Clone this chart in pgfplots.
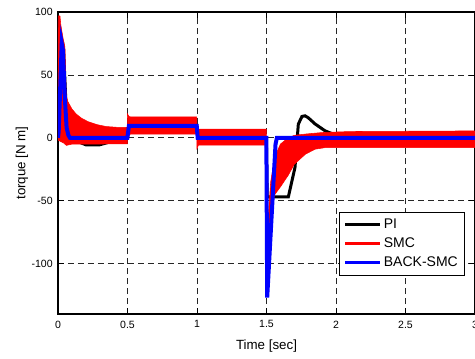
\documentclass[border=0pt]{standalone}
\usepackage{pgfplots}
\pgfplotsset{compat=1.18}
\usepackage{fontspec}
\setmainfont{Liberation Sans}
\begin{document}
\begin{tikzpicture}
\begin{axis}[
  name=ax,
  at={(0pt,0pt)}, anchor=south west,
  scale only axis,
  width=312.75pt, height=226.5pt,
  xmin=0, xmax=3, ymin=-140, ymax=100,
  xtick={0,0.5,1,1.5,2,2.5,3},
  xticklabels={0,0.5,1,1.5,2,2.5,3},
  ytick={-100,-50,0,50,100},
  yticklabels={-100,-50,0,50,100},
  tick label style={font=\fontsize{7.9}{9}\selectfont},
  xticklabel style={yshift=-1.5pt},
  yticklabel style={xshift=-0.5pt},
  tick align=inside,
  major tick length=4.5pt,
  every tick/.style={black, line width=0.6pt},
  axis line style={black, line width=0.9pt},
  grid=major,
  major grid style={black!85, line width=0.55pt, dash pattern=on 4.5pt off 3pt},
  xlabel={Time [sec]},
  ylabel={torque [N m]},
  label style={font=\fontsize{10}{12}\selectfont},
  every axis x label/.style={at={(axis description cs:0.5,-0.106)}, anchor=center},
  every axis y label/.style={at={(axis description cs:-0.0863,0.5)}, anchor=center, rotate=90},
  legend style={at={(1,0)}, anchor=south east, xshift=-7.5pt, yshift=28.5pt,
    draw=black, line width=0.8pt, fill=white,
    font=\fontsize{10.5}{12}\selectfont,
    row sep=1.5pt, inner xsep=3pt, inner ysep=3pt},
  legend cell align=left,
  legend image code/.code={\draw[#1] (0pt,0pt) -- (26pt,0pt);},
]
% PI
\addplot[black, line width=2.25pt, forget plot] coordinates {
(0,0) (0.005,10) (0.031,77) (0.04,70) (0.06,20) (0.08,5) (0.12,-2) (0.2,-5.5) (0.3,-5.5) (0.4,-2.5) (0.499,0)
(0.51,10) (0.998,10) (1.01,0) (1.499,0) (1.505,-47) (1.657,-47) (1.705,-23.5) (1.729,10.9) (1.755,17)
(1.777,17.5) (1.8,16) (1.85,11) (1.921,5.6) (2.0,2) (2.1,0.5) (2.3,0) (3,0)
};
% SMC band
\addplot[draw=red, line width=0.4pt, fill=red, forget plot] coordinates {
(0,0) (0.002,97) (0.014,97) (0.02,90) (0.035,80) (0.05,72) (0.058,35) (0.07,29) (0.1,23) (0.13,19)
(0.17,15.5) (0.22,12.7) (0.28,10.5) (0.345,9) (0.42,8.4) (0.499,8.2) (0.5,19) (0.51,17) (0.52,16.7)
(0.998,16.7) (1.0,7) (1.002,7) (1.499,7) (1.5,-20) (1.508,-70) (1.53,-35) (1.56,-15) (1.6,-5)
(1.655,0) (1.7,2) (1.78,3) (1.9,4.2) (2.1,5) (3,5.5)
(3,-7.7) (1.92,-7.8) (1.85,-9) (1.78,-13) (1.7,-21) (1.655,-30) (1.6,-39) (1.56,-45) (1.53,-55)
(1.508,-95) (1.5,-6) (1.499,-5.8) (1.01,-5.8) (1.0,-8.6) (0.998,3) (0.52,3) (0.5,0) (0.499,-4.8)
(0.1,-5) (0.06,-6) (0.05,-5) (0.04,-4) (0.02,-3) (0.003,-2) (0,0)
};
% BACK-SMC
\addplot[blue, line width=3pt, forget plot] coordinates {
(0,0) (0.005,5) (0.027,75) (0.035,70) (0.05,30) (0.062,8) (0.075,2) (0.086,0) (0.499,0)
(0.51,9.5) (0.998,9.5) (1.005,0) (1.499,0) (1.505,-127) (1.565,-5) (1.575,0) (3,0)
};
\addlegendimage{black, line width=2.25pt}
\addlegendentry{PI}
\addlegendimage{red, line width=2.25pt}
\addlegendentry{SMC}
\addlegendimage{blue, line width=2.25pt}
\addlegendentry{BACK-SMC}
\end{axis}
\pgfresetboundingbox
\path (-43.5pt,-33pt) rectangle (312.75pt,235.5pt);
\end{tikzpicture}
\end{document}
